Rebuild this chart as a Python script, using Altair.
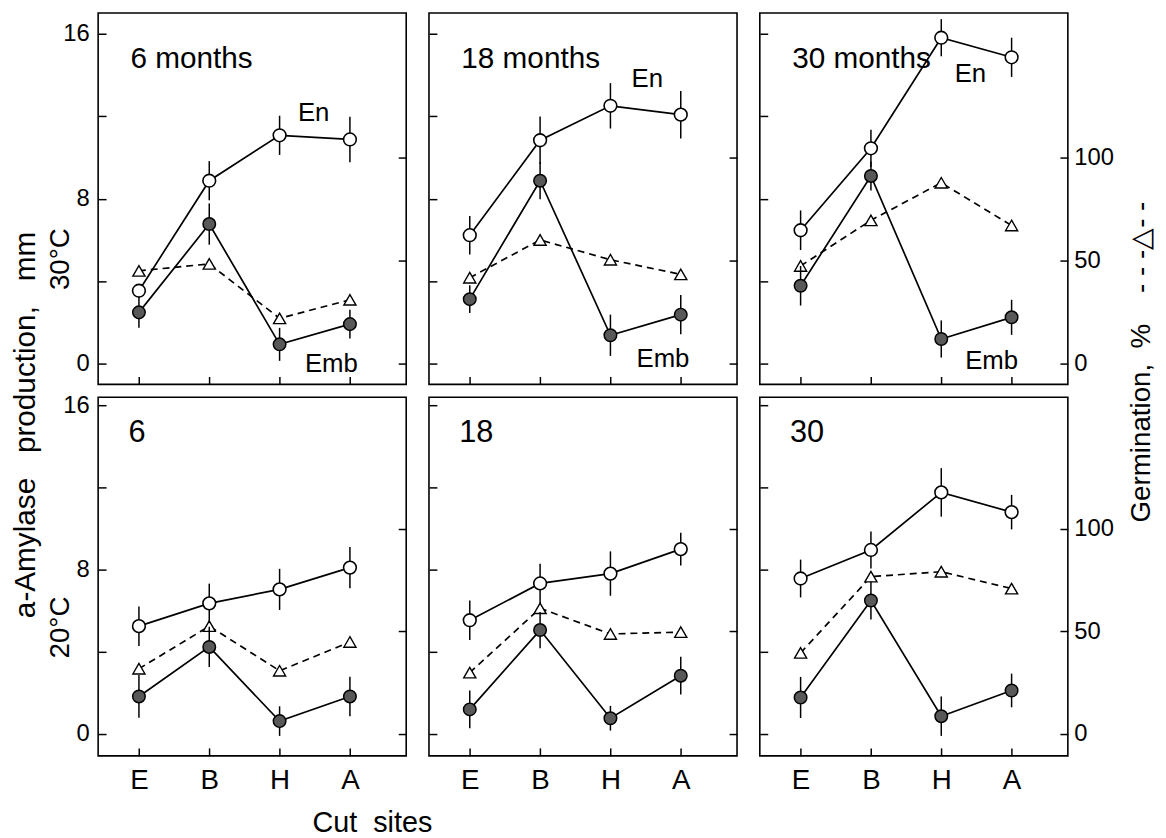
import json
import altair as alt
import pandas as pd

# ---------------- data ----------------
sites = ["E", "B", "H", "A"]
top_labels = ["6 months", "18 months", "30 months"]
bottom_labels = ["6", "18", "30"]

# 30 °C (top row): alpha-amylase (mm) for endosperm (En) and embryo (Emb), germination (%)
en_30 = [[3.54, 8.87, 11.07, 10.87], [6.23, 10.83, 12.50, 12.07], [6.47, 10.44, 15.80, 14.85]]
en_30_err = [[0.30, 0.95, 0.95, 1.10], [0.93, 1.15, 1.10, 1.15], [0.96, 0.90, 0.90, 0.95]]
emb_30 = [[2.49, 6.77, 0.94, 1.92], [3.13, 8.87, 1.38, 2.38], [3.78, 9.10, 1.20, 2.25]]
emb_30_err = [[0.75, 1.00, 0.80, 0.70], [0.67, 0.90, 1.00, 0.95], [0.96, 0.70, 0.90, 0.85]]
germ_30 = [[45.0, 48.4, 22.0, 31.0], [41.7, 60.0, 50.4, 43.3], [47.4, 69.5, 87.7, 67.0]]

# 20 °C (bottom row)
en_20 = [[5.25, 6.36, 7.04, 8.10], [5.54, 7.33, 7.81, 9.00], [7.57, 8.96, 11.76, 10.80]]
en_20_err = [[0.96, 0.96, 1.00, 1.00], [0.96, 0.96, 1.08, 0.80], [0.92, 0.90, 1.18, 0.84]]
emb_20 = [[1.83, 4.24, 0.63, 1.83], [1.20, 5.06, 0.77, 2.84], [1.78, 6.50, 0.87, 2.12]]
emb_20_err = [[1.04, 0.98, 0.72, 0.96], [0.92, 0.88, 0.60, 0.92], [1.00, 0.92, 0.96, 0.82]]
germ_20 = [[31.8, 52.5, 30.8, 44.8], [29.9, 61.2, 48.7, 49.6], [39.5, 76.6, 79.0, 70.8]]

mm_ticks = [0, 4, 8, 12, 16]
germ_ticks = [0, 50, 100]

# annotation anchor points (data coordinates)
en_label_at = [(2.26, 11.74), (2.30, 13.40), (2.19, 13.65)]
emb_label_at = [(2.36, -0.38), (2.37, -0.14), (2.34, -0.24)]

NARROW = "'Liberation Sans Narrow', 'Liberation Sans', Arial, sans-serif"
REG = "'Liberation Sans', Arial, sans-serif"
NB = "\u00a0"
MAIN_TITLE = f"a-Amylase{NB*3}production,{NB*3}mm"
GERM_TITLE = f"Germination,{NB*2}%{NB*4}-{NB}-{NB}-△-{NB}-"
W = 311
XDOM = [-0.58, 3.80]
x_label_expr = json.dumps(sites) + "[datum.value]"


def make_df(en, en_err, emb, emb_err, germ):
    return pd.DataFrame({
        "idx": list(range(len(sites))),
        "site": sites,
        "en": en,
        "en_lo": [v - e for v, e in zip(en, en_err)],
        "en_hi": [v + e for v, e in zip(en, en_err)],
        "emb": emb,
        "emb_lo": [v - e for v, e in zip(emb, emb_err)],
        "emb_hi": [v + e for v, e in zip(emb, emb_err)],
        "germ": germ,
    })


def panel(row, col):
    top = row == 0
    if top:
        df = make_df(en_30[col], en_30_err[col], emb_30[col], emb_30_err[col], germ_30[col])
        height = 375
        ydom = [-1.0, 17.0]
    else:
        df = make_df(en_20[col], en_20_err[col], emb_20[col], emb_20_err[col], germ_20[col])
        height = 362
        ydom = [-1.06, 16.39]
    gdom = [v * 10 for v in ydom]

    xs = alt.Scale(domain=XDOM, nice=False, zero=False)
    ys = alt.Scale(domain=ydom, nice=False, zero=False)
    gs = alt.Scale(domain=gdom, nice=False, zero=False)

    xa = dict(orient="bottom", values=list(range(len(sites))), labelExpr=x_label_expr,
              labels=not top, offset=-8, tickSize=8, domain=False, grid=False,
              labelPadding=11, labelFontSize=28, labelFont=REG, labelFlush=False, title=None)
    if row == 1 and col == 0:
        xa.update(title=f"Cut{NB*2}sites", titleX=216, titleY=84, titleAlign="left",
                  titleBaseline="alphabetic", titleFontSize=29)
    xaxis = alt.Axis(**xa)

    ya = dict(orient="left", values=mm_ticks, labels=(col == 0),
              labelExpr="datum.value % 8 === 0 ? datum.label : ''",
              offset=-8, tickSize=8, domain=False, grid=False, labelPadding=9,
              labelFontSize=24, labelFont=NARROW, labelFlush=False, title=None)
    if col == 0:
        ya.update(title="30°C" if top else "20°C", titleX=-46, titleY=248 if top else 232,
                  titleAngle=270, titleAlign="center", titleBaseline="middle", titleFontSize=28)
    yaxis = alt.Axis(**ya)

    ga = dict(orient="right", values=germ_ticks, labels=(col == 2), offset=-8, tickSize=8,
              domain=False, grid=False, labelPadding=6, labelFontSize=24, labelFont=NARROW,
              labelFlush=False, title=None)
    if top and col == 2:
        ga.update(title=GERM_TITLE, titleX=82, titleY=352, titleAngle=270, titleAlign="center",
                  titleBaseline="middle", titleFontSize=28)
    gaxis = alt.Axis(**ga)

    X = alt.X("idx:Q", scale=xs, axis=xaxis)

    def Y(field):
        return alt.Y(f"{field}:Q", scale=ys, axis=yaxis)

    base = alt.Chart(df)
    en_err_l = base.mark_rule(color="black", strokeWidth=1.5).encode(x=X, y=Y("en_lo"), y2="en_hi")
    emb_err_l = base.mark_rule(color="black", strokeWidth=1.5).encode(x=X, y=Y("emb_lo"), y2="emb_hi")
    en_line = base.mark_line(color="black", strokeWidth=1.7).encode(x=X, y=Y("en"))
    emb_line = base.mark_line(color="black", strokeWidth=1.7).encode(x=X, y=Y("emb"))
    emb_pts = base.mark_circle(size=160, fill="#585858", stroke="black", strokeWidth=1.5,
                               opacity=1).encode(x=X, y=Y("emb"))
    en_pts = base.mark_circle(size=165, fill="white", stroke="black", strokeWidth=1.6,
                              opacity=1).encode(x=X, y=Y("en"))

    def text_layer(txt, xd, yd, size, font):
        return alt.Chart(pd.DataFrame({"t": [txt]})).mark_text(
            align="left", baseline="alphabetic", font=font, fontSize=size, color="black"
        ).encode(
            x=alt.XDatum(xd, scale=xs, axis=xaxis, type="quantitative"),
            y=alt.YDatum(yd, scale=ys, axis=yaxis, type="quantitative"),
            text="t:N",
        )

    texts = []
    if top:
        texts.append(text_layer(top_labels[col], -0.12, 14.35, 30, NARROW))
        texts.append(text_layer("En", en_label_at[col][0], en_label_at[col][1], 26, REG))
        texts.append(text_layer("Emb", emb_label_at[col][0], emb_label_at[col][1], 26, REG))
    else:
        texts.append(text_layer(bottom_labels[col], -0.15, 14.2, 31, NARROW))

    mm_layer = alt.layer(en_err_l, emb_err_l, en_line, emb_line, emb_pts, en_pts, *texts)

    GY = alt.Y("germ:Q", scale=gs, axis=gaxis)
    g_line = base.mark_line(color="black", strokeWidth=1.7, strokeDash=[7, 5]).encode(x=X, y=GY)
    g_pts = base.mark_point(shape="triangle-up", size=150, filled=True, fill="white",
                            stroke="black", strokeWidth=1.4, opacity=1).encode(x=X, y=GY)
    germ_layer = alt.layer(g_line, g_pts)

    return alt.layer(germ_layer, mm_layer).resolve_scale(y="independent").properties(
        width=W, height=height)


panels = [panel(r, c) for r in range(2) for c in range(3)]

chart = alt.concat(
    *panels, columns=3, spacing={"row": 13, "column": 23}, bounds="flush"
).properties(
    title=alt.TitleParams(MAIN_TITLE, orient="left", anchor="middle", fontSize=30, font=REG,
                          fontWeight="normal", offset=5, color="black"),
    padding={"left": 3, "top": 0, "right": 2, "bottom": 0},
    background="white",
).configure_view(
    stroke="black", strokeWidth=1.6
).configure_axis(
    tickColor="black", tickWidth=1.5, labelColor="black", titleColor="black",
    titleFont=REG, titleFontWeight="normal"
)

chart.save("out.html", embed_options={"renderer": "svg", "actions": False})
